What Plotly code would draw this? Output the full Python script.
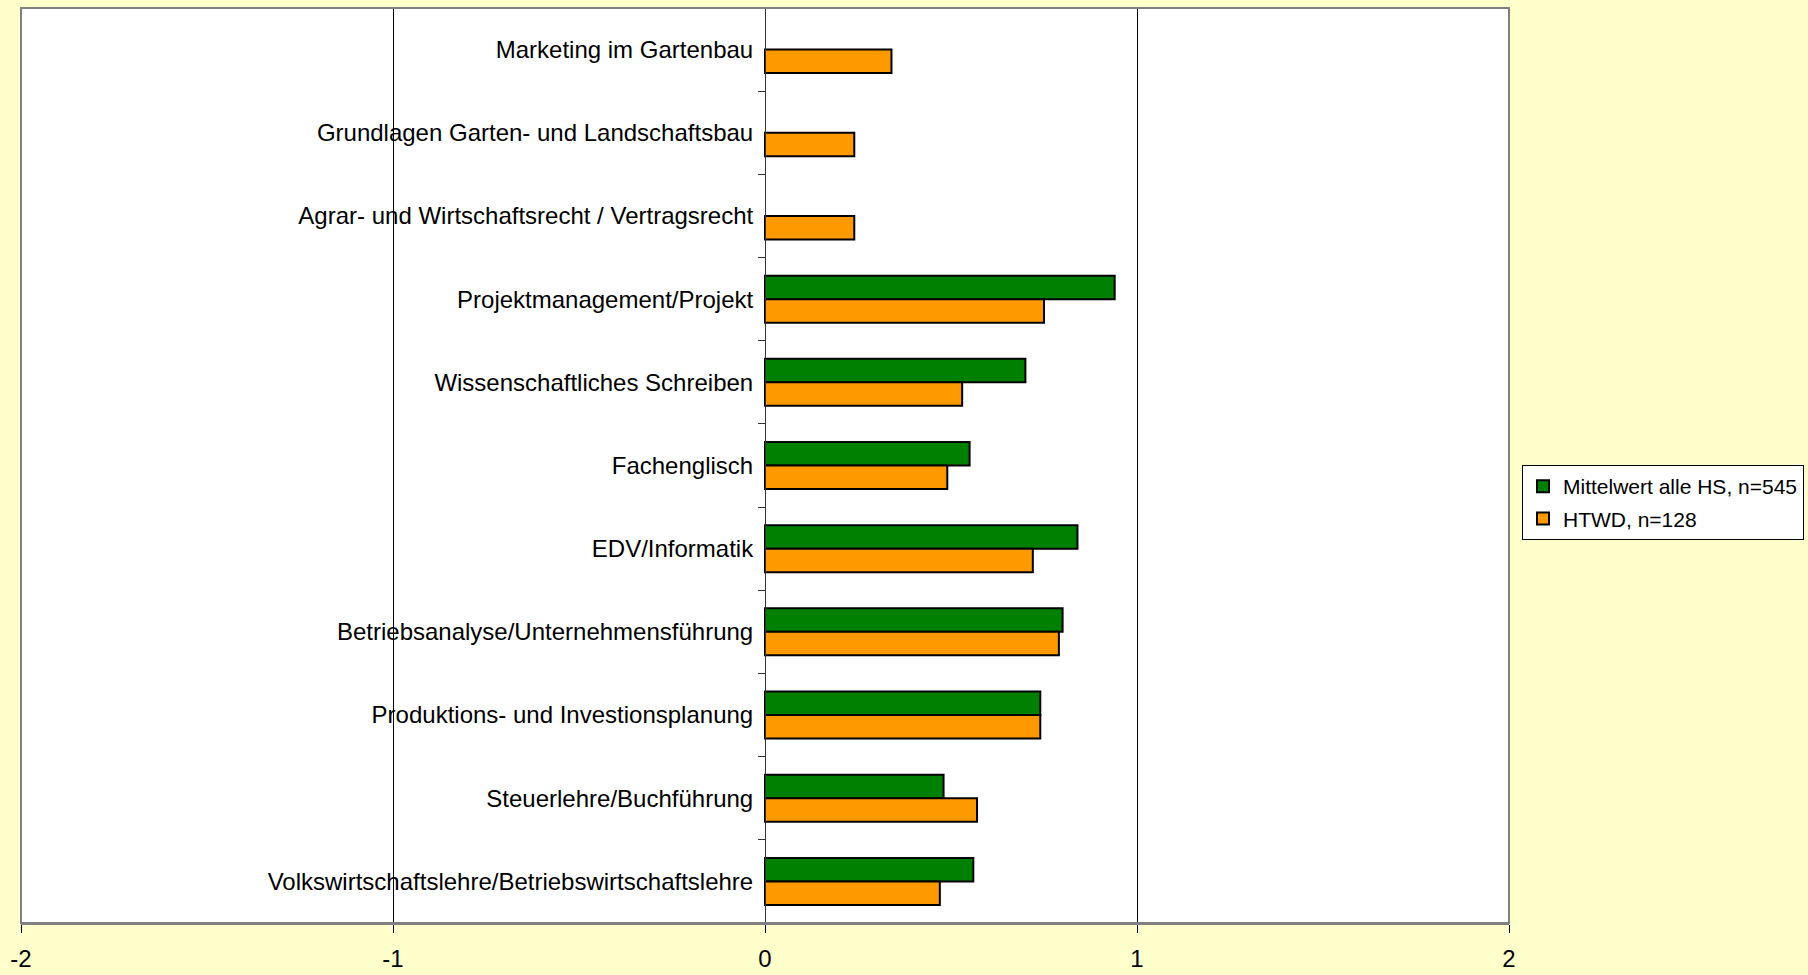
import plotly.graph_objects as go

categories = [
    "Marketing im Gartenbau",
    "Grundlagen Garten- und Landschaftsbau",
    "Agrar- und Wirtschaftsrecht / Vertragsrecht",
    "Projektmanagement/Projekt",
    "Wissenschaftliches Schreiben",
    "Fachenglisch",
    "EDV/Informatik",
    "Betriebsanalyse/Unternehmensführung",
    "Produktions- und Investionsplanung",
    "Steuerlehre/Buchführung",
    "Volkswirtschaftslehre/Betriebswirtschaftslehre",
]
mittelwert_alle_hs = [None, None, None, 0.94, 0.70, 0.55, 0.84, 0.80, 0.74, 0.48, 0.56]
htwd = [0.34, 0.24, 0.24, 0.75, 0.53, 0.49, 0.72, 0.79, 0.74, 0.57, 0.47]
series_names = ["Mittelwert alle HS, n=545", "HTWD, n=128"]
x_ticks = [-2, -1, 0, 1, 2]

W, H = 1808, 975
L, R, T, B = 21, 1808 - 1509, 8, 975 - 923

fig = go.Figure()
fig.add_trace(go.Bar(
    y=categories, x=mittelwert_alle_hs, orientation="h", name=series_names[0],
    marker=dict(color="#008000", line=dict(color="#000000", width=2)),
    legendgroup="a",
))
fig.add_trace(go.Bar(
    y=categories, x=htwd, orientation="h", name=series_names[1],
    marker=dict(color="#FF9900", line=dict(color="#000000", width=2)),
    legendgroup="b",
))

fig.update_layout(
    width=W, height=H,
    margin=dict(l=L, r=R, t=T, b=B, pad=0),
    paper_bgcolor="#FFFFCC",
    plot_bgcolor="#FFFFFF",
    barmode="group",
    bargap=0.435,
    bargroupgap=0,
    font=dict(family="Liberation Sans, Arial, sans-serif", color="#000000", size=24),
    showlegend=True,
    legend=dict(
        xref="container", yref="container",
        x=1522 / W, y=1 - 465 / H, xanchor="left", yanchor="top",
        bgcolor="#FFFFFF", bordercolor="#000000", borderwidth=1,
        font=dict(size=21, family="Liberation Sans, Arial, sans-serif"),
        traceorder="grouped", tracegroupgap=2,
    ),
    xaxis=dict(
        range=[-2, 2], tickvals=x_ticks, ticktext=[str(v) for v in x_ticks],
        showgrid=True, gridcolor="#000000", gridwidth=1,
        zeroline=False,
        showline=True, linecolor="#808080", linewidth=2,
        ticks="outside", ticklen=8, tickcolor="#000000", tickwidth=1,
        ticklabelstandoff=5,
        automargin=False, fixedrange=True,
    ),
    yaxis=dict(
        type="category", autorange="reversed",
        anchor="free", position=0.5,
        showline=True, linecolor="#333333", linewidth=1,
        ticks="outside", ticklen=7, tickcolor="#333333", tickwidth=1,
        tickson="boundaries",
        ticklabelstandoff=7,
        showgrid=False, zeroline=False,
        automargin=False, fixedrange=True,
        tickfont=dict(size=24),
    ),
    shapes=[dict(
        type="rect", xref="x domain", yref="y domain",
        x0=0, x1=1, y0=0, y1=1,
        line=dict(color="#808080", width=2), layer="above",
    )],
)

fig.write_html(
    "out.html",
    config={"displayModeBar": False},
    post_script="document.body.style.margin='0';document.body.style.background='#FFFFCC';",
)
